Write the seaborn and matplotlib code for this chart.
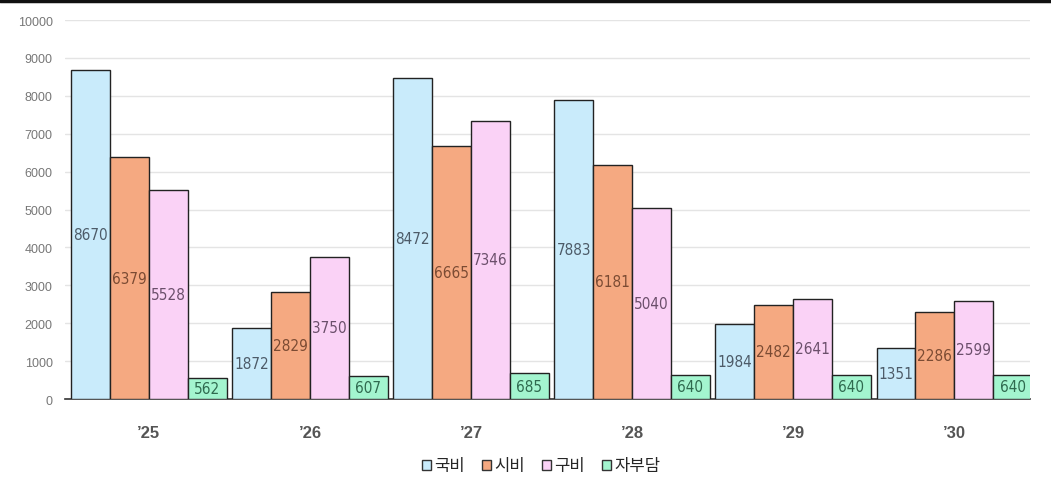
import pandas as pd
import matplotlib.pyplot as plt
import seaborn as sns
from matplotlib.patches import Patch
from matplotlib.lines import Line2D

years = ["’25", "’26", "’27", "’28", "’29", "’30"]
series = ["국비", "시비", "구비", "자부담"]
gukbi = [8670, 1872, 8472, 7883, 1984, 1351]
sibi = [6379, 2829, 6665, 6181, 2482, 2286]
gubi = [5528, 3750, 7346, 5040, 2641, 2599]
jabudam = [562, 607, 685, 640, 640, 640]

colors = ["#c9ebfb", "#f5a981", "#fad2f6", "#a3f5cf"]
label_colors = ["#4d5b68", "#7b4b33", "#6b4f6b", "#2f6a4f"]

df = pd.DataFrame({"year": years * 4,
                   "kind": sum([[s] * 6 for s in series], []),
                   "value": gukbi + sibi + gubi + jabudam})

sns.set_style("white")
plt.rcParams['font.family'] = ['Noto Sans CJK KR', 'DejaVu Sans']

fig = plt.figure(figsize=(10.51, 4.89), dpi=100)
ax = fig.add_axes([0.062, 0.182, 0.918, 0.775])

sns.barplot(data=df, x="year", y="value", hue="kind", palette=colors,
            saturation=1, width=0.965, gap=0, edgecolor="#222222",
            linewidth=1.0, legend=False, ax=ax, zorder=3)

# value labels in the middle of each bar
for i, cont in enumerate(ax.containers):
    for bar in cont:
        h = bar.get_height()
        ax.text(bar.get_x() + bar.get_width() / 2, h / 2, f"{int(h)}",
                ha="center", va="center", fontsize=11, color=label_colors[i],
                family='DejaVu Sans', fontstretch='condensed', zorder=4)

ax.set_ylim(0, 10000)
ax.set_xlim(-0.52, 5.47)
ax.set_yticks(range(0, 10001, 1000))
ax.yaxis.grid(True, color="#e4e4e4", linewidth=1, zorder=0)
ax.tick_params(axis="y", labelsize=9, labelcolor="#777777", length=0, pad=9)
ax.tick_params(axis="x", labelsize=12, length=0, pad=19)
for t in ax.get_xticklabels():
    t.set_fontweight("bold")
    t.set_color("#555555")
    t.set_family(['Liberation Sans', 'DejaVu Sans'])
for t in ax.get_yticklabels():
    t.set_family(['Liberation Sans', 'DejaVu Sans'])
ax.set_xlabel("")
ax.set_ylabel("")
for s in ["top", "right", "left"]:
    ax.spines[s].set_visible(False)
ax.spines["bottom"].set_color("#333333")
ax.spines["bottom"].set_linewidth(1.2)

handles = [Patch(facecolor=c, edgecolor="#333333", linewidth=1) for c in colors]
fig.legend(handles, series, loc="center", bbox_to_anchor=(0.515, 0.045), ncol=4,
           frameon=False, fontsize=12, handlelength=0.55, handleheight=0.55,
           handletextpad=0.2, columnspacing=1.0)

fig.add_artist(Line2D([0, 1], [0.995, 0.995], color="#111111", linewidth=2.5,
                      transform=fig.transFigure))

fig.savefig("out.png", dpi=100)
